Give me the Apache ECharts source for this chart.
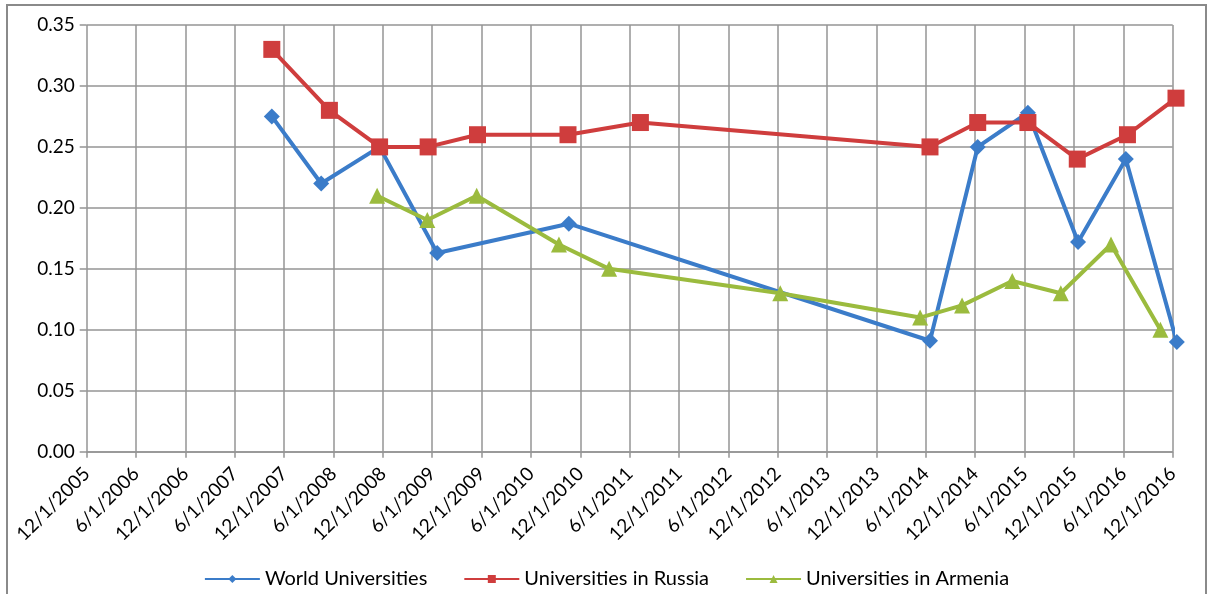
<!DOCTYPE html>
<html>
<head>
<meta charset="utf-8">
<script src="https://cdn.jsdelivr.net/npm/echarts@6/dist/echarts.min.js"></script>
<style>
  html, body { margin: 0; padding: 0; background: #fff; }
  #chart { width: 1213px; height: 594px; }
</style>
</head>
<body>
<div id="chart"></div>
<script>
// Half-year tick labels along the date axis
const tickLabels = [
  '12/1/2005', '6/1/2006', '12/1/2006', '6/1/2007', '12/1/2007', '6/1/2008',
  '12/1/2008', '6/1/2009', '12/1/2009', '6/1/2010', '12/1/2010', '6/1/2011',
  '12/1/2011', '6/1/2012', '12/1/2012', '6/1/2013', '12/1/2013', '6/1/2014',
  '12/1/2014', '6/1/2015', '12/1/2015', '6/1/2016', '12/1/2016'
];
const yTicks = [0, 0.05, 0.10, 0.15, 0.20, 0.25, 0.30, 0.35];

// World Universities
const worldDates = ['10/16/2007', '4/16/2008', '11/19/2008', '6/19/2009', '10/19/2010',
  '6/16/2014', '12/10/2014', '6/13/2015', '12/16/2015', '6/10/2016', '12/16/2016'];
const worldValues = [0.275, 0.22, 0.25, 0.163, 0.187, 0.091, 0.25, 0.278, 0.172, 0.24, 0.09];

// Universities in Russia
const russiaDates = ['10/16/2007', '5/16/2008', '11/19/2008', '5/16/2009', '11/16/2009',
  '10/16/2010', '7/10/2011', '6/16/2014', '12/10/2014', '6/13/2015', '12/13/2015',
  '6/16/2016', '12/13/2016'];
const russiaValues = [0.33, 0.28, 0.25, 0.25, 0.26, 0.26, 0.27, 0.25, 0.27, 0.27, 0.24, 0.26, 0.29];

// Universities in Armenia
const armeniaDates = ['11/10/2008', '5/13/2009', '11/13/2009', '9/13/2010', '3/16/2011',
  '12/10/2012', '5/10/2014', '10/13/2014', '4/16/2015', '10/13/2015', '4/16/2016', '10/16/2016'];
const armeniaValues = [0.21, 0.19, 0.21, 0.17, 0.15, 0.13, 0.11, 0.12, 0.14, 0.13, 0.17, 0.10];

// Months elapsed since 12/1/2005 (the axis origin)
function monthsFromStart(s) {
  const [m, d, y] = s.split('/').map(Number);
  return (y - 2005) * 12 + (m - 12) + (d - 1) / 30;
}
function pairs(dates, values) {
  return dates.map((d, i) => [monthsFromStart(d), values[i]]);
}

const gridColor = '#949494';
const font = 'Lato, "Open Sans", sans-serif';

const chart = echarts.init(document.getElementById('chart'), null, { renderer: 'canvas' });
chart.setOption({
  animation: false,
  backgroundColor: '#fff',
  graphic: [{
    type: 'rect',
    shape: { x: 7, y: 5, width: 1199, height: 592 },
    style: { fill: 'none', stroke: '#8a8a8a', lineWidth: 2 },
    silent: true
  }],
  grid: { left: 86.7, right: 40.3, top: 25, bottom: 142.3 },
  xAxis: {
    type: 'value',
    min: 0,
    max: (tickLabels.length - 1) * 6,
    interval: 6,
    axisLine: { show: true, lineStyle: { color: gridColor, width: 1.5 } },
    axisTick: { show: true, length: 6, lineStyle: { color: gridColor, width: 1.5 } },
    splitLine: { show: true, lineStyle: { color: gridColor, width: 1.5 } },
    axisLabel: {
      rotate: 45,
      margin: 19,
      fontFamily: font,
      fontSize: 19,
      color: '#000',
      formatter: v => tickLabels[Math.round(v / 6)] || ''
    }
  },
  yAxis: {
    type: 'value',
    min: yTicks[0],
    max: yTicks[yTicks.length - 1],
    interval: 0.05,
    axisLine: { show: false },
    axisTick: { show: true, length: 7, lineStyle: { color: gridColor, width: 1.5 } },
    splitLine: { show: true, lineStyle: { color: gridColor, width: 1.5 } },
    axisLabel: {
      margin: 12,
      fontFamily: font,
      fontSize: 19,
      color: '#000',
      formatter: v => v.toFixed(2)
    }
  },
  legend: {
    bottom: 0,
    left: 'center',
    itemWidth: 55,
    itemHeight: 10,
    itemGap: 36,
    textStyle: { fontFamily: font, fontSize: 20, color: '#000' },
    data: ['World Universities', 'Universities in Russia', 'Universities in Armenia']
  },
  series: [
    {
      name: 'World Universities',
      type: 'line',
      clip: false,
      data: pairs(worldDates, worldValues),
      symbol: 'diamond',
      symbolSize: 16,
      lineStyle: { width: 4, color: '#3b7cc9' },
      itemStyle: { color: '#3b7cc9' }
    },
    {
      name: 'Universities in Russia',
      type: 'line',
      clip: false,
      data: pairs(russiaDates, russiaValues),
      symbol: 'rect',
      symbolSize: 17,
      lineStyle: { width: 4, color: '#cf3d3d' },
      itemStyle: { color: '#cf3d3d' }
    },
    {
      name: 'Universities in Armenia',
      type: 'line',
      clip: false,
      data: pairs(armeniaDates, armeniaValues),
      symbol: 'triangle',
      symbolSize: 16,
      lineStyle: { width: 4, color: '#9bbb3e' },
      itemStyle: { color: '#9bbb3e' }
    }
  ]
});
</script>
</body>
</html>
